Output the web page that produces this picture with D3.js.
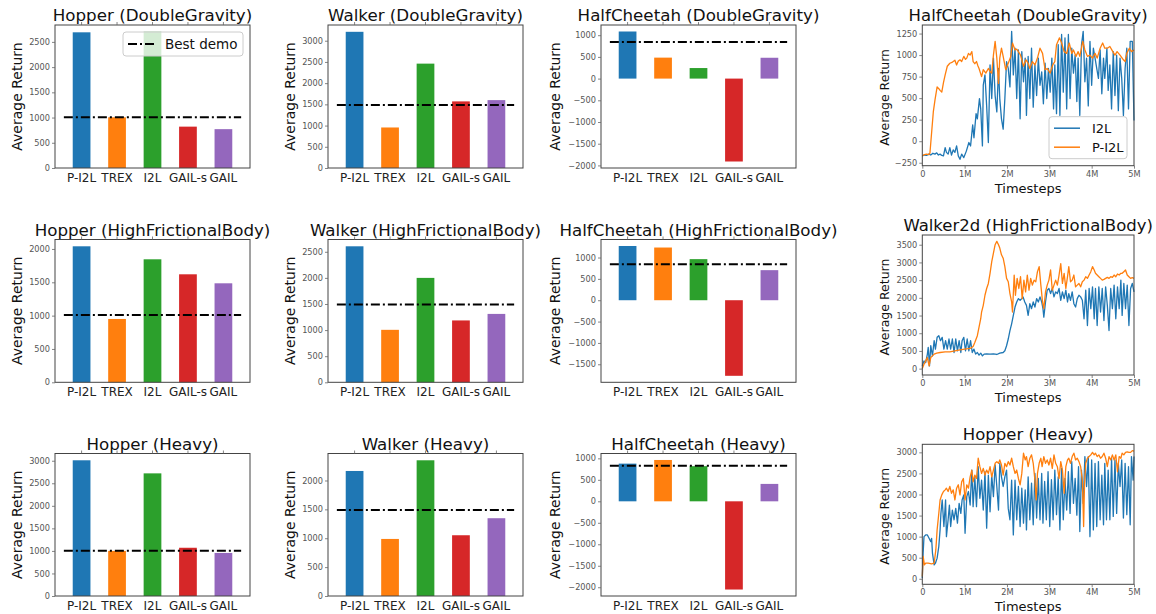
<!DOCTYPE html>
<html>
<head>
<meta charset="utf-8">
<script src="https://d3js.org/d3.v7.min.js"></script>
<style>
body { margin: 0; background: #fff; }
svg text { font-family: "DejaVu Sans", sans-serif; }
</style>
</head>
<body>
<div id="chart"></div>
<script>
// ---- bar chart data ----
var methods = ["P-I2L", "TREX", "I2L", "GAIL-s", "GAIL"];
var barColors = ["#1f77b4", "#ff7f0e", "#2ca02c", "#d62728", "#9467bd"];

var barTitles = [
  "Hopper (DoubleGravity)", "Walker (DoubleGravity)", "HalfCheetah (DoubleGravity)",
  "Hopper (HighFrictionalBody)", "Walker (HighFrictionalBody)", "HalfCheetah (HighFrictionalBody)",
  "Hopper (Heavy)", "Walker (Heavy)", "HalfCheetah (Heavy)"
];
var hopperDG = [2690, 1005, 2700, 820, 770];
var walkerDG = [3210, 955, 2460, 1570, 1600];
var cheetahDG = [1085, 483, 243, -1910, 480];
var hopperHFB = [2040, 950, 1845, 1620, 1485];
var walkerHFB = [2605, 1005, 2000, 1185, 1310];
var cheetahHFB = [1270, 1234, 962, -1770, 704];
var hopperHeavy = [3010, 1000, 2720, 1070, 955];
var walkerHeavy = [2165, 988, 2350, 1052, 1347];
var cheetahHeavy = [877, 962, 818, -2053, 405];
var barValues = [hopperDG, walkerDG, cheetahDG, hopperHFB, walkerHFB, cheetahHFB, hopperHeavy, walkerHeavy, cheetahHeavy];
var bestDemo = [1005, 1485, 845, 1010, 1490, 844, 1005, 1490, 830];
var barTicks = [
  [0, 500, 1000, 1500, 2000, 2500],
  [0, 500, 1000, 1500, 2000, 2500, 3000],
  [-2000, -1500, -1000, -500, 0, 500, 1000],
  [0, 500, 1000, 1500, 2000],
  [0, 500, 1000, 1500, 2000, 2500],
  [-1500, -1000, -500, 0, 500, 1000],
  [0, 500, 1000, 1500, 2000, 2500, 3000],
  [0, 500, 1000, 1500, 2000],
  [-2000, -1500, -1000, -500, 0, 500, 1000]
];

// ---- learning curve data: [timesteps (M), average return] ----
var lineTitles = ["HalfCheetah (DoubleGravity)", "Walker2d (HighFrictionalBody)", "Hopper (Heavy)"];
var seriesNames = ["I2L", "P-I2L"];
var lineColors = ["#1f77b4", "#ff7f0e"];
var stepTicks = [0, 1, 2, 3, 4, 5];
var stepLabels = ["0", "1M", "2M", "3M", "4M", "5M"];
var lineTicks = [
  [-250, 0, 250, 500, 750, 1000, 1250],
  [0, 500, 1000, 1500, 2000, 2500, 3000, 3500],
  [0, 500, 1000, 1500, 2000, 2500, 3000]
];

var cheetahI2L = [[0,-170],[0.05,-160],[0.1,-165],[0.15,-150],[0.2,-160],[0.25,-140],[0.3,-150],[0.34,-135],[0.38,-160],[0.42,-150],[0.46,-165],[0.5,-170],[0.54,-75],[0.57,-130],[0.61,-150],[0.65,-75],[0.69,-160],[0.73,-100],[0.77,-130],[0.81,-55],[0.85,-170],[0.89,-210],[0.93,-150],[0.98,-190],[1.04,-115],[1.1,-15],[1.14,-55],[1.19,190],[1.22,40],[1.27,320],[1.3,260],[1.35,495],[1.38,375],[1.42,-55],[1.44,650],[1.48,770],[1.52,410],[1.56,-15],[1.6,885],[1.64,495],[1.68,965],[1.72,530],[1.76,340],[1.8,845],[1.83,495],[1.87,260],[1.91,140],[1.95,495],[1.99,925],[2.03,845],[2.07,630],[2.11,1275],[2.15,770],[2.19,1080],[2.23,495],[2.27,1060],[2.31,260],[2.35,1040],[2.39,690],[2.43,965],[2.46,300],[2.5,985],[2.54,495],[2.58,1080],[2.62,395],[2.66,885],[2.7,530],[2.74,965],[2.78,650],[2.82,805],[2.86,435],[2.9,905],[2.94,495],[2.98,845],[3.02,570],[3.06,965],[3.1,375],[3.13,885],[3.17,320],[3.21,1120],[3.25,300],[3.29,1240],[3.33,570],[3.37,1200],[3.41,375],[3.45,1240],[3.49,495],[3.53,1080],[3.57,790],[3.61,1000],[3.65,460],[3.68,965],[3.72,300],[3.76,1120],[3.8,1275],[3.84,690],[3.88,965],[3.92,410],[3.96,1160],[4.0,650],[4.04,1080],[4.08,965],[4.12,845],[4.16,730],[4.2,1060],[4.24,550],[4.28,965],[4.31,730],[4.36,1080],[4.39,590],[4.43,885],[4.47,375],[4.51,1040],[4.55,530],[4.59,1000],[4.63,355],[4.67,965],[4.71,730],[4.75,300],[4.79,845],[4.83,1080],[4.87,375],[4.91,1160],[4.96,1160],[5,240]];
var cheetahPI2L = [[0,-170],[0.05,-155],[0.1,-150],[0.15,-155],[0.18,-140],[0.26,340],[0.3,480],[0.35,630],[0.39,610],[0.42,590],[0.46,570],[0.5,680],[0.54,770],[0.59,870],[0.65,905],[0.7,915],[0.73,925],[0.77,940],[0.81,885],[0.85,930],[0.89,945],[0.93,925],[0.98,985],[1.02,950],[1.05,965],[1.09,1020],[1.13,1000],[1.17,1040],[1.2,925],[1.24,900],[1.28,925],[1.31,880],[1.34,845],[1.4,750],[1.44,830],[1.5,790],[1.56,845],[1.6,810],[1.64,790],[1.68,1000],[1.72,1160],[1.76,965],[1.8,670],[1.83,965],[1.87,1080],[1.91,985],[1.97,830],[2.03,905],[2.09,985],[2.13,1140],[2.19,1060],[2.23,1070],[2.27,1040],[2.32,1000],[2.39,870],[2.45,945],[2.5,905],[2.54,845],[2.6,925],[2.66,885],[2.72,965],[2.78,1080],[2.84,1020],[2.9,830],[2.95,845],[3.02,790],[3.08,885],[3.13,925],[3.17,1120],[3.24,1200],[3.29,1140],[3.35,1040],[3.41,1020],[3.47,1140],[3.53,1020],[3.57,1060],[3.63,985],[3.68,1040],[3.72,985],[3.79,1160],[3.84,1060],[3.9,985],[3.96,1000],[4.02,965],[4.08,1020],[4.13,965],[4.2,1080],[4.26,1140],[4.31,1080],[4.37,1080],[4.43,1100],[4.5,1040],[4.55,1000],[4.6,1040],[4.67,1000],[4.75,945],[4.79,925],[4.83,1020],[4.89,1080],[4.94,1040],[5,1060]];

var walkerI2L = [[0,76],[0.04,220],[0.08,170],[0.12,410],[0.14,600],[0.17,76],[0.2,650],[0.24,360],[0.28,790],[0.31,550],[0.35,885],[0.39,930],[0.43,790],[0.47,885],[0.51,550],[0.55,790],[0.59,550],[0.63,837],[0.67,550],[0.71,837],[0.75,456],[0.79,837],[0.83,504],[0.87,790],[0.91,456],[0.94,790],[0.98,885],[1.02,504],[1.06,837],[1.1,504],[1.14,790],[1.18,456],[1.22,550],[1.26,410],[1.3,456],[1.34,380],[1.38,437],[1.42,360],[1.46,410],[1.52,418],[1.6,410],[1.68,418],[1.76,400],[1.83,437],[1.91,456],[1.95,504],[1.99,647],[2.03,837],[2.07,1075],[2.11,1265],[2.15,1503],[2.19,1740],[2.23,1883],[2.27,1978],[2.31,1930],[2.35,1978],[2.38,2026],[2.42,1883],[2.46,1788],[2.5,1503],[2.54,1835],[2.58,1693],[2.62,1883],[2.66,1740],[2.7,1978],[2.74,1883],[2.78,2026],[2.82,1883],[2.85,1693],[2.87,1455],[2.91,1883],[2.95,2216],[2.99,2264],[3.03,2121],[3.07,2264],[3.11,2026],[3.15,2168],[3.19,2121],[3.23,2264],[3.27,1930],[3.31,2168],[3.35,1978],[3.39,2216],[3.43,1883],[3.46,2121],[3.5,1930],[3.54,2168],[3.58,1835],[3.62,1740],[3.66,1978],[3.7,2073],[3.74,2026],[3.78,1930],[3.82,1408],[3.86,2216],[3.9,1217],[3.94,2264],[3.98,1693],[4.02,2311],[4.06,1408],[4.09,2264],[4.13,1217],[4.17,2311],[4.21,1598],[4.25,2264],[4.29,1360],[4.33,2311],[4.37,1788],[4.41,1075],[4.45,2264],[4.49,1693],[4.53,2359],[4.57,1408],[4.61,2311],[4.65,1693],[4.69,2501],[4.72,1503],[4.76,2406],[4.8,1693],[4.84,2359],[4.88,1217],[4.92,2264],[4.96,2406],[5,2168]];
var walkerPI2L = [[0,0],[0.04,124],[0.08,220],[0.12,314],[0.16,76],[0.2,314],[0.24,360],[0.28,410],[0.34,440],[0.42,456],[0.54,475],[0.65,475],[0.77,504],[0.89,530],[1.0,550],[1.13,570],[1.2,627],[1.24,740],[1.3,930],[1.34,1170],[1.38,1410],[1.4,1598],[1.44,1788],[1.48,2073],[1.52,2264],[1.56,2406],[1.6,2692],[1.64,3024],[1.68,3262],[1.72,3500],[1.76,3595],[1.8,3500],[1.83,3405],[1.87,3215],[1.91,3120],[1.95,2882],[1.99,2549],[2.03,2454],[2.07,2121],[2.11,1883],[2.13,1598],[2.17,2644],[2.2,2073],[2.24,2549],[2.28,2264],[2.32,2597],[2.36,1978],[2.4,2501],[2.44,2168],[2.48,2644],[2.52,2216],[2.56,2549],[2.6,2359],[2.64,2501],[2.68,2454],[2.72,2739],[2.76,2882],[2.8,2359],[2.84,1883],[2.87,1693],[2.91,2168],[2.95,2359],[2.99,2501],[3.03,2787],[3.07,2216],[3.11,2359],[3.15,2501],[3.19,2359],[3.23,2644],[3.27,2968],[3.31,2406],[3.35,2692],[3.39,2264],[3.43,2597],[3.46,2882],[3.5,2454],[3.54,2501],[3.58,2644],[3.62,2311],[3.66,2359],[3.7,2406],[3.74,2311],[3.78,2454],[3.82,2501],[3.86,2597],[3.9,2549],[3.94,2644],[3.98,2739],[4.02,2882],[4.06,2787],[4.09,2692],[4.13,2644],[4.17,2597],[4.21,2549],[4.25,2501],[4.29,2520],[4.33,2549],[4.37,2577],[4.41,2549],[4.45,2597],[4.49,2577],[4.53,2644],[4.57,2597],[4.61,2672],[4.65,2644],[4.69,2692],[4.72,2692],[4.76,2739],[4.8,2787],[4.84,2644],[4.88,2597],[4.92,2549],[4.96,2568],[5,2549]];

var hopperI2L = [[0,20],[0.02,610],[0.04,1000],[0.08,1040],[0.12,1040],[0.16,960],[0.2,880],[0.22,960],[0.24,610],[0.28,330],[0.31,370],[0.35,490],[0.39,770],[0.42,1160],[0.44,1555],[0.47,1870],[0.51,1240],[0.55,1870],[0.57,1000],[0.61,1400],[0.64,1750],[0.67,1240],[0.71,1630],[0.75,1400],[0.79,1670],[0.83,1320],[0.87,1790],[0.91,1550],[0.94,1870],[0.98,1990],[1.01,1080],[1.05,1950],[1.09,2070],[1.13,1750],[1.17,2580],[1.2,1710],[1.24,2420],[1.28,1710],[1.32,2660],[1.36,1910],[1.4,2340],[1.44,1630],[1.48,2540],[1.52,1200],[1.56,2460],[1.6,1590],[1.64,2460],[1.68,1950],[1.72,2700],[1.76,2190],[1.8,1630],[1.83,2740],[1.87,2420],[1.91,2190],[1.95,2420],[1.99,2580],[2.03,1670],[2.07,1400],[2.11,2340],[2.15,1040],[2.19,2340],[2.23,1400],[2.27,2190],[2.31,1240],[2.35,2150],[2.39,1320],[2.43,2110],[2.46,1160],[2.5,2420],[2.54,1400],[2.58,2270],[2.62,1280],[2.66,2500],[2.7,1440],[2.74,2380],[2.78,1400],[2.82,2500],[2.85,1320],[2.89,2310],[2.93,1400],[2.97,2540],[3.01,1240],[3.05,2350],[3.09,1400],[3.13,2580],[3.17,1520],[3.21,2420],[3.25,1160],[3.29,2620],[3.33,1400],[3.37,2380],[3.41,1630],[3.45,2540],[3.49,1550],[3.53,2780],[3.57,1790],[3.61,2380],[3.65,1510],[3.69,2660],[3.72,1120],[3.76,2580],[3.8,1790],[3.84,2900],[3.88,2190],[3.92,2900],[3.96,1000],[4.0,2820],[4.04,1160],[4.08,2740],[4.12,1240],[4.16,2780],[4.2,1400],[4.24,2460],[4.28,1280],[4.31,2740],[4.35,1400],[4.39,2580],[4.43,1400],[4.47,2860],[4.51,1480],[4.55,2820],[4.59,1550],[4.63,2740],[4.67,2190],[4.71,2820],[4.75,1440],[4.79,2740],[4.83,1520],[4.87,2660],[4.91,1280],[4.94,2900],[4.98,2340],[5,2900]];
var hopperPI2L = [[0,55],[0.02,530],[0.05,330],[0.08,370],[0.14,370],[0.22,355],[0.28,370],[0.32,690],[0.35,1160],[0.39,1555],[0.42,1870],[0.46,1990],[0.5,2070],[0.54,2110],[0.57,2150],[0.61,2070],[0.65,2190],[0.69,2030],[0.73,2110],[0.77,1870],[0.81,2150],[0.85,2230],[0.89,1990],[0.93,2300],[0.97,2380],[1.01,1870],[1.05,2230],[1.09,2150],[1.13,2420],[1.17,2580],[1.2,2300],[1.24,2460],[1.28,2380],[1.32,2860],[1.36,2660],[1.4,2500],[1.44,2620],[1.48,2460],[1.52,2580],[1.56,2500],[1.6,2660],[1.64,2420],[1.68,2580],[1.72,2740],[1.76,2780],[1.8,2740],[1.83,2820],[1.87,2700],[1.91,2460],[1.95,2740],[1.99,2660],[2.03,2780],[2.07,2700],[2.11,2860],[2.15,2660],[2.19,2500],[2.23,2580],[2.27,2380],[2.31,2230],[2.35,2500],[2.39,2980],[2.43,2820],[2.46,2900],[2.5,2660],[2.54,2860],[2.58,2940],[2.62,2740],[2.66,2340],[2.69,1870],[2.72,2500],[2.76,2740],[2.8,2860],[2.83,2660],[2.87,2900],[2.91,2740],[2.95,2820],[2.99,2700],[3.03,2860],[3.07,2620],[3.11,2940],[3.15,2740],[3.19,2660],[3.23,2380],[3.27,2780],[3.31,2580],[3.35,2030],[3.39,2660],[3.43,2820],[3.46,2860],[3.5,2740],[3.54,2900],[3.58,2980],[3.62,2820],[3.66,2860],[3.7,2780],[3.74,2660],[3.78,2340],[3.81,1240],[3.83,2190],[3.86,2740],[3.9,2860],[3.94,2900],[3.98,2940],[4.02,3000],[4.06,2940],[4.09,2980],[4.13,2900],[4.17,2940],[4.21,2860],[4.25,2900],[4.29,2980],[4.33,2860],[4.37,2660],[4.41,2900],[4.45,2820],[4.49,2940],[4.53,2820],[4.57,2940],[4.61,2540],[4.65,2900],[4.69,2860],[4.72,2980],[4.76,2940],[4.8,3000],[4.84,3010],[4.88,3000],[4.92,3000],[4.96,3040],[5,3030]];

var lineSeries = [[cheetahI2L, cheetahPI2L], [walkerI2L, walkerPI2L], [hopperI2L, hopperPI2L]];

// ---- layout ----
var W = 1156, H = 614;
var svg = d3.select("#chart").append("svg").attr("width", W).attr("height", H);

var barLefts = [55, 328, 601];
var barLabelOffset = [38, 37.5, 46];
var barRows = [[25, 168], [239.5, 382.3], [453.5, 596]];
var lineRows = [[25, 165.7], [235, 375], [444.3, 584.3]];
var barW = 195, lineLeft = 922.3, lineW = 211.7;
var fmt = d3.format("d");

function frame(g, w, h) {
  g.append("rect").attr("width", w).attr("height", h)
    .attr("fill", "none").attr("stroke", "#444").attr("stroke-width", 1);
}

function styleAxis(a, size, color) {
  a.select(".domain").remove();
  a.selectAll("line").attr("stroke", "#666").attr("stroke-width", 0.8);
  a.selectAll("text").attr("font-size", size).attr("fill", color)
    .attr("font-family", "DejaVu Sans");
}

function barPanel(i) {
  var row = Math.floor(i / 3), col = i % 3;
  var left = barLefts[col], top = barRows[row][0], h = barRows[row][1] - top, w = barW;
  var vals = barValues[i];
  var g = svg.append("g").attr("transform", "translate(" + left + "," + top + ")");

  var x = d3.scaleBand().domain(methods).range([0, w]).paddingInner(0.5).paddingOuter(0.5);
  var lo = Math.min(0, d3.min(vals)), hi = d3.max(vals);
  var pad = (hi - lo) * 0.05;
  var y = d3.scaleLinear().domain([lo < 0 ? lo - pad : 0, hi + pad]).range([h, 0]);

  g.selectAll("rect.bar").data(vals).enter().append("rect")
    .attr("class", "bar")
    .attr("x", function(d, k) { return x(methods[k]); })
    .attr("width", x.bandwidth())
    .attr("y", function(d) { return y(Math.max(0, d)); })
    .attr("height", function(d) { return Math.abs(y(d) - y(0)); })
    .attr("fill", function(d, k) { return barColors[k]; });

  // best demo line spans -0.5 .. 4.5 in bar units
  var step = x.step();
  g.append("line")
    .attr("x1", x(methods[0]) + x.bandwidth() / 2 - step / 2)
    .attr("x2", x(methods[4]) + x.bandwidth() / 2 + step / 2)
    .attr("y1", y(bestDemo[i])).attr("y2", y(bestDemo[i]))
    .attr("stroke", "#000").attr("stroke-width", 2)
    .attr("stroke-dasharray", "9,3,2,3");

  frame(g, w, h);

  var ay = g.append("g").call(d3.axisLeft(y).tickValues(barTicks[i]).tickFormat(fmt).tickSize(3).tickPadding(2));
  styleAxis(ay, 8.2, "#555");
  var ax = g.append("g").attr("transform", "translate(0," + h + ")")
    .call(d3.axisBottom(x).tickSize(0).tickPadding(5));
  styleAxis(ax, 12, "#222");
  var at = g.append("g").call(d3.axisTop(x).tickSize(3).tickFormat(""));
  styleAxis(at, 8, "#444");

  g.append("text").attr("x", w / 2).attr("y", -4).attr("text-anchor", "middle")
    .attr("font-size", 16.7).attr("fill", "#111").text(barTitles[i]);
  g.append("text").attr("transform", "translate(" + (-barLabelOffset[col]) + "," + (h / 2) + ") rotate(-90)")
    .attr("dy", "0.35em").attr("text-anchor", "middle")
    .attr("font-size", 14).attr("fill", "#111").text("Average Return");

  if (i === 0) {
    var lg = g.append("g").attr("transform", "translate(" + (w - 127) + ",7)");
    lg.append("rect").attr("width", 120).attr("height", 24).attr("rx", 3)
      .attr("fill", "#fff").attr("fill-opacity", 0.8).attr("stroke", "#ccc");
    lg.append("line").attr("x1", 5).attr("x2", 32).attr("y1", 12).attr("y2", 12)
      .attr("stroke", "#000").attr("stroke-width", 2).attr("stroke-dasharray", "9,3,2,3");
    lg.append("text").attr("x", 42).attr("y", 12).attr("dy", "0.35em")
      .attr("font-size", 13.5).attr("fill", "#111").text("Best demo");
  }
}

function linePanel(j) {
  var top = lineRows[j][0], h = lineRows[j][1] - top, w = lineW;
  var g = svg.append("g").attr("transform", "translate(" + lineLeft + "," + top + ")");
  var all = lineSeries[j][0].concat(lineSeries[j][1]);
  var lo = d3.min(all, function(d) { return d[1]; }), hi = d3.max(all, function(d) { return d[1]; });
  var pad = (hi - lo) * 0.05;
  var x = d3.scaleLinear().domain([0, 5]).range([0, w]);
  var y = d3.scaleLinear().domain([lo - pad, hi + pad]).range([h, 0]);
  var line = d3.line().x(function(d) { return x(d[0]); }).y(function(d) { return y(d[1]); });

  lineSeries[j].forEach(function(s, k) {
    g.append("path").datum(s).attr("d", line).attr("fill", "none")
      .attr("stroke", lineColors[k]).attr("stroke-width", 1.3).attr("stroke-linejoin", "round");
  });

  frame(g, w, h);
  var ay = g.append("g").call(d3.axisLeft(y).tickValues(lineTicks[j]).tickFormat(fmt).tickSize(3).tickPadding(2));
  styleAxis(ay, 8.2, "#555");
  var ax = g.append("g").attr("transform", "translate(0," + h + ")")
    .call(d3.axisBottom(x).tickValues(stepTicks).tickSize(3).tickPadding(2)
      .tickFormat(function(d, k) { return stepLabels[k]; }));
  styleAxis(ax, 8.2, "#555");

  g.append("text").attr("x", w / 2).attr("y", -4).attr("text-anchor", "middle")
    .attr("font-size", 16.5).attr("fill", "#111").text(lineTitles[j]);
  g.append("text").attr("transform", "translate(-38," + (h / 2 + 2) + ") rotate(-90)")
    .attr("dy", "0.35em").attr("text-anchor", "middle")
    .attr("font-size", 12.5).attr("fill", "#111").text("Average Return");
  g.append("text").attr("x", w / 2).attr("y", h + 27).attr("text-anchor", "middle")
    .attr("font-size", 13).attr("fill", "#111").text("Timesteps");

  if (j === 0) {
    var lg = g.append("g").attr("transform", "translate(" + (w - 85) + "," + (h - 49) + ")");
    lg.append("rect").attr("width", 78).attr("height", 42).attr("rx", 3)
      .attr("fill", "#fff").attr("fill-opacity", 0.8).attr("stroke", "#ccc");
    seriesNames.forEach(function(nm, k) {
      var yy = 11.5 + k * 19;
      lg.append("line").attr("x1", 5).attr("x2", 31).attr("y1", yy).attr("y2", yy)
        .attr("stroke", lineColors[k]).attr("stroke-width", 1.5);
      lg.append("text").attr("x", 43).attr("y", yy).attr("dy", "0.35em")
        .attr("font-size", 13).attr("fill", "#111").text(nm);
    });
  }
}

for (var i = 0; i < 9; i++) barPanel(i);
for (var j = 0; j < 3; j++) linePanel(j);
</script>
</body>
</html>
